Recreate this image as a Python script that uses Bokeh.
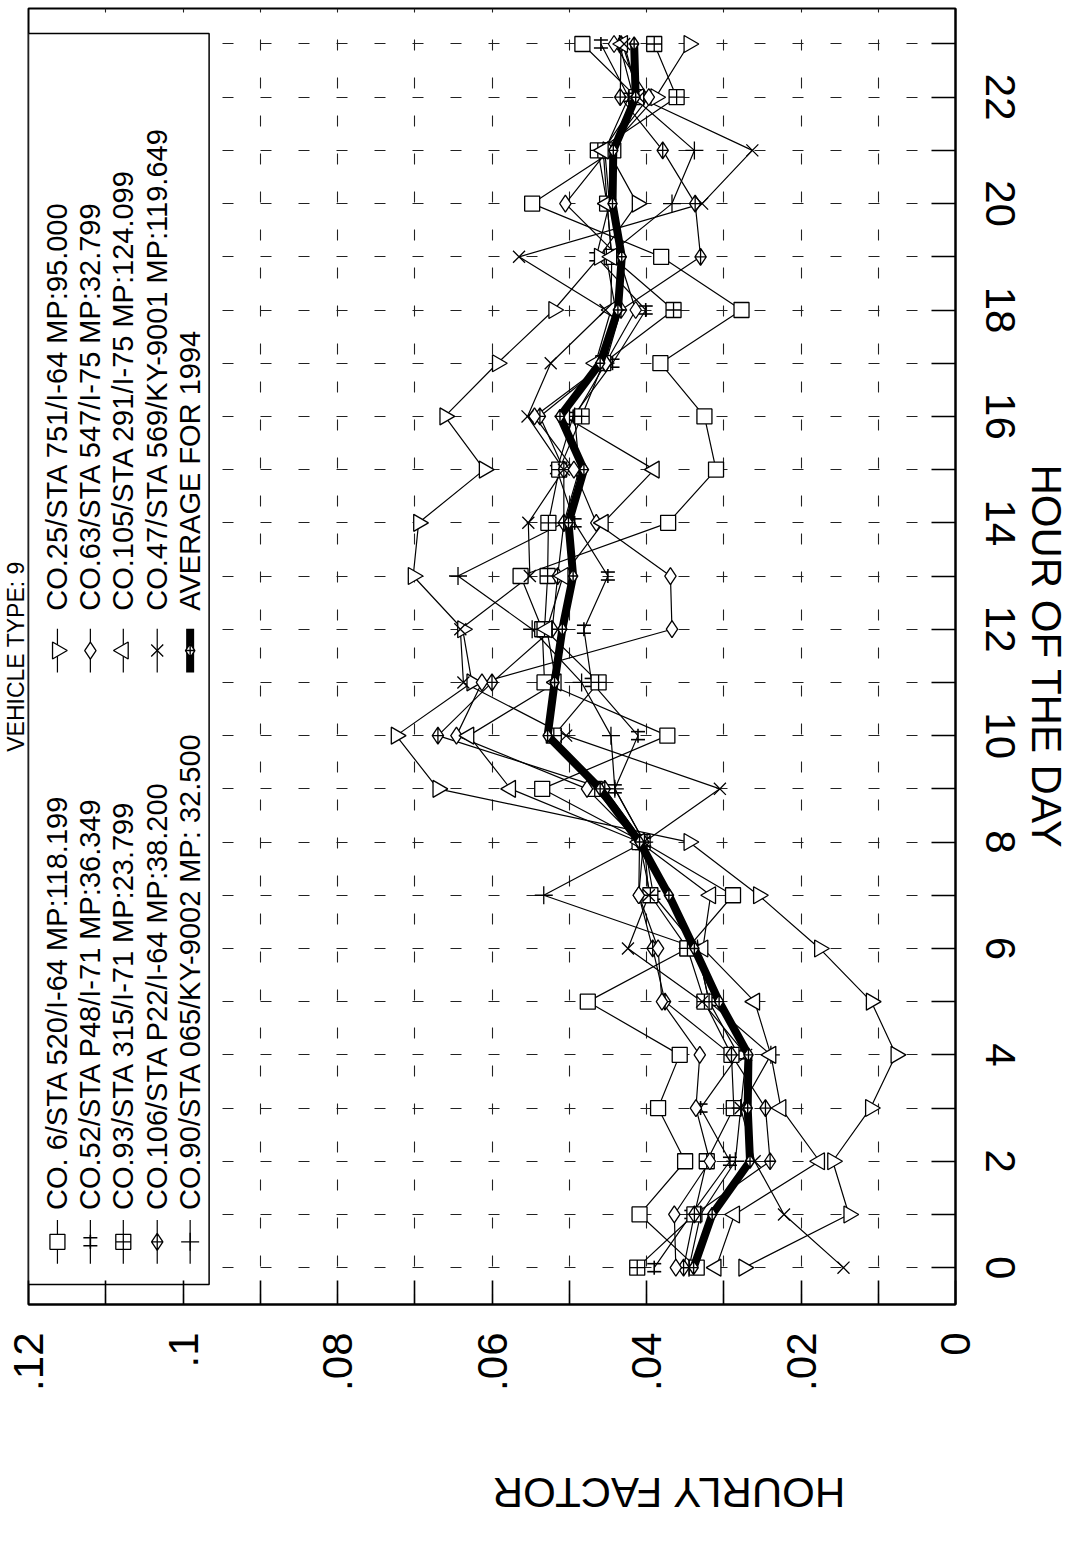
from math import pi
from bokeh.plotting import figure
from bokeh.models import Range1d, FixedTicker, CustomJSTickFormatter, Label
from bokeh.embed import file_html
from bokeh.resources import INLINE

# ---------------- data (hourly factor by hour of the day) ----------------
hours = list(range(24))

co6_sta520 = [0.0335, 0.0409, 0.0350, 0.0385, 0.0357, 0.0476, 0.0347, 0.0288, 0.0405, 0.0535, 0.0373, 0.0532,
              0.0535, 0.0563, 0.0372, 0.0310, 0.0325, 0.0382, 0.0277, 0.0381, 0.0548, 0.0443, 0.0413, 0.0483]
co52_p48 = [0.0390, 0.0342, 0.0292, 0.0330, 0.0281, 0.0319, 0.0334, 0.0391, 0.0403, 0.0441, 0.0411, 0.0471,
            0.0481, 0.0450, 0.0493, 0.0516, 0.0495, 0.0444, 0.0401, 0.0465, 0.0448, 0.0454, 0.0423, 0.0459]
co93_sta315 = [0.0412, 0.0338, 0.0322, 0.0287, 0.0290, 0.0325, 0.0347, 0.0395, 0.0409, 0.0467, 0.0520, 0.0462,
               0.0532, 0.0528, 0.0527, 0.0513, 0.0484, 0.0456, 0.0365, 0.0445, 0.0451, 0.0463, 0.0361, 0.0390]
co106_p22 = [0.0352, 0.0338, 0.0240, 0.0246, 0.0290, 0.0376, 0.0392, 0.0410, 0.0404, 0.0454, 0.0670, 0.0600,
             0.0522, 0.0515, 0.0507, 0.0507, 0.0538, 0.0453, 0.0433, 0.0330, 0.0337, 0.0379, 0.0434, 0.0433]
co90_sta065 = [0.0345, 0.0330, 0.0285, 0.0278, 0.0239, 0.0319, 0.0334, 0.0533, 0.0403, 0.0441, 0.0446, 0.0484,
               0.0548, 0.0644, 0.0507, 0.0487, 0.0493, 0.0453, 0.0440, 0.0452, 0.0367, 0.0338, 0.0417, 0.0435]
co25_sta751 = [0.0274, 0.0138, 0.0159, 0.0110, 0.0077, 0.0109, 0.0176, 0.0255, 0.0345, 0.0670, 0.0724, 0.0626,
               0.0638, 0.0702, 0.0695, 0.0610, 0.0661, 0.0593, 0.0520, 0.0461, 0.0412, 0.0450, 0.0388, 0.0345]
co63_sta547 = [0.0362, 0.0364, 0.0318, 0.0336, 0.0331, 0.0380, 0.0385, 0.0410, 0.0409, 0.0477, 0.0646, 0.0613,
               0.0367, 0.0369, 0.0465, 0.0494, 0.0545, 0.0453, 0.0414, 0.0436, 0.0505, 0.0450, 0.0397, 0.0442]
co105_sta291 = [0.0310, 0.0286, 0.0176, 0.0226, 0.0239, 0.0260, 0.0327, 0.0317, 0.0409, 0.0576, 0.0630, 0.0517,
                0.0529, 0.0508, 0.0456, 0.0390, 0.0506, 0.0466, 0.0446, 0.0445, 0.0451, 0.0456, 0.0410, 0.0431]
co47_sta569 = [0.0145, 0.0222, 0.0260, 0.0278, 0.0271, 0.0328, 0.0424, 0.0397, 0.0403, 0.0305, 0.0504, 0.0637,
               0.0641, 0.0551, 0.0553, 0.0507, 0.0554, 0.0524, 0.0453, 0.0565, 0.0328, 0.0263, 0.0410, 0.0429]
avg_1994 = [0.0339, 0.0315, 0.0266, 0.0269, 0.0268, 0.0306, 0.0338, 0.0371, 0.0409, 0.0460, 0.0528, 0.0519,
            0.0509, 0.0495, 0.0501, 0.0481, 0.0512, 0.0460, 0.0437, 0.0432, 0.0444, 0.0443, 0.0414, 0.0416]

factor_ticks = [0.0, 0.02, 0.04, 0.06, 0.08, 0.10, 0.12]
factor_minor = [0.01, 0.03, 0.05, 0.07, 0.09, 0.11]
hour_ticks = [0, 2, 4, 6, 8, 10, 12, 14, 16, 18, 20, 22]
hour_minor = [1, 3, 5, 7, 9, 11, 13, 15, 17, 19, 21, 23]

labels_left = ["CO. 6/STA 520/I-64 MP:118.199", "CO.52/STA P48/I-71 MP:36.349",
               "CO.93/STA 315/I-71 MP:23.799", "CO.106/STA P22/I-64 MP:38.200",
               "CO.90/STA 065/KY-9002 MP: 32.500"]
labels_right = ["CO.25/STA 751/I-64 MP:95.000", "CO.63/STA 547/I-75 MP:32.799",
                "CO.105/STA 291/I-75 MP:124.099", "CO.47/STA 569/KY-9001 MP:119.649",
                "AVERAGE FOR 1994"]
title_text = "VEHICLE TYPE: 9"
x_title = "HOURLY FACTOR"
y_title = "HOUR OF THE DAY"

# ---------------- layout ----------------
FONT = "Liberation Sans"
W, H = 1084, 1542
FL, FR, FT, FB = 26, 955, 8, 1310   # frame edges, canvas px
XMAX = 0.12
Y_LO = (1273 - FB) / 53.45
Y_HI = (1273 - FT) / 53.45


def fx(px):
    return XMAX * (FR - px) / (FR - FL)


def fy(py):
    return Y_LO + (FB - py) * (Y_HI - Y_LO) / (FB - FT)


p = figure(width=W, height=H, x_range=Range1d(XMAX, 0.0), y_range=Range1d(Y_LO, Y_HI),
           y_axis_location="right", output_backend="svg", toolbar_location=None,
           title=title_text, title_location="left",
           min_border_left=FL, min_border_right=W - FR,
           min_border_top=FT, min_border_bottom=H - FB)
p.title.align = "center"
p.title.text_font = FONT
p.title.text_font_size = "23px"
p.title.text_font_style = "normal"
p.title.text_color = "black"
p.title.standoff = 0
p.title.offset = 0
p.background_fill_color = "white"
p.border_fill_color = "white"
p.outline_line_color = "black"
p.outline_line_width = 2

fticker = FixedTicker(ticks=factor_ticks, minor_ticks=factor_minor)
hticker = FixedTicker(ticks=hour_ticks, minor_ticks=hour_minor)

xa = p.xaxis[0]
xa.ticker = fticker
xa.formatter = CustomJSTickFormatter(code="""
if (tick == 0) { return '0'; }
var s = tick.toFixed(2).replace(/^0/, '');
return s.replace(/0$/, '');
""")
ya = p.yaxis[0]
ya.ticker = hticker
for ax in (xa, ya):
    ax.major_label_text_font = FONT
    ax.major_label_text_font_size = "42px"
    ax.major_label_text_color = "black"
    ax.major_tick_in = 24
    ax.major_tick_out = 0
    ax.minor_tick_in = 24
    ax.minor_tick_out = 0
    ax.major_tick_line_width = 1.6
    ax.minor_tick_line_width = 1.6
    ax.major_tick_line_color = "black"
    ax.minor_tick_line_color = "black"
    ax.axis_line_width = 2
    ax.axis_line_color = "black"
    ax.axis_label_text_font = FONT
    ax.axis_label_text_font_size = "42px"
    ax.axis_label_text_font_style = "normal"
    ax.axis_label_text_color = "black"
xa.major_label_orientation = pi / 2
ya.major_label_orientation = "vertical"
xa.major_label_standoff = 28
ya.major_label_standoff = 30

xa.axis_label = x_title
ya.axis_label = y_title
xa.axis_label_standoff = 99
ya.axis_label_standoff = 5
try:
    xa.axis_label_orientation = pi
except Exception:
    pass
try:
    ya.axis_label_orientation = "vertical"
except Exception:
    pass

for g, tk in ((p.xgrid[0], fticker), (p.ygrid[0], hticker)):
    g.ticker = tk
    g.grid_line_color = "#222222"
    g.grid_line_width = 1.1
    g.grid_line_dash = "11 27"
    g.minor_grid_line_color = "#222222"
    g.minor_grid_line_width = 1.1
    g.minor_grid_line_dash = "11 27"

# ---------------- legend box (under the data) ----------------
LEG_R = 207
p.quad(left=[fx(FL)], right=[fx(LEG_R)], top=[fy(33)], bottom=[fy(1290)],
       fill_color="white", line_color="black", line_width=1.5)

# ---------------- series ----------------
LW = 1.2


def hash_marker(xs, ys, size=14):
    dy = 0.075
    p.scatter(xs, [v + dy for v in ys], marker="dash", size=size, line_color="black", line_width=1.6)
    p.scatter(xs, [v - dy for v in ys], marker="dash", size=size, line_color="black", line_width=1.6)
    p.scatter(xs, ys, marker="dash", angle=pi / 2, size=size, line_color="black", line_width=1.6)


series = [
    (co6_sta520, "square", 0, 15),
    (co52_p48, "hash", 0, 14),
    (co93_sta315, "square_cross", 0, 15),
    (co106_p22, "diamond_cross", 0, 17),
    (co90_sta065, "cross", 0, 18),
    (co25_sta751, "triangle", -pi / 2, 17),
    (co63_sta547, "diamond", 0, 17),
    (co105_sta291, "triangle", pi / 2, 17),
    (co47_sta569, "x", 0, 17),
]

for vals, mk, ang, sz in series:
    p.line(vals, hours, line_color="black", line_width=LW)
for vals, mk, ang, sz in series:
    if mk == "hash":
        hash_marker(vals, hours, sz)
    else:
        p.scatter(vals, hours, marker=mk, angle=ang, size=sz, fill_color="white",
                  line_color="black", line_width=1.3)

p.line(avg_1994, hours, line_color="black", line_width=8)
p.scatter(avg_1994, hours, marker="diamond_cross", size=14, fill_color="white",
          line_color="black", line_width=1.4)

# ---------------- legend entries ----------------
col_x = [55, 88, 121, 155, 188]
left_marks = [("square", 0, 15), ("hash", 0, 14), ("square_cross", 0, 15), ("diamond_cross", 0, 17), ("cross", 0, 18)]
right_marks = [("triangle", -pi / 2, 17), ("diamond", 0, 17), ("triangle", pi / 2, 17), ("x", 0, 17), ("avg", 0, 14)]

for texts, marks, yc_px, ytxt_px in ((labels_left, left_marks, 1247, 1215),
                                      (labels_right, right_marks, 653, 613)):
    yc = fy(yc_px)
    d = 22 / 53.45
    for cx_px, txt, (mk, ang, sz) in zip(col_x, texts, marks):
        cx = fx(cx_px)
        if mk == "avg":
            p.line([cx, cx], [yc - d, yc + d], line_color="black", line_width=8)
            p.scatter([cx], [yc], marker="diamond_cross", size=14, fill_color="white",
                      line_color="black", line_width=1.4)
        else:
            p.line([cx, cx], [yc - d, yc + d], line_color="black", line_width=LW)
            if mk == "hash":
                hash_marker([cx], [yc], sz)
            else:
                p.scatter([cx], [yc], marker=mk, angle=ang, size=sz, fill_color="white",
                          line_color="black", line_width=1.3)
        p.add_layout(Label(x=cx, y=fy(ytxt_px), text=txt, angle=pi / 2, text_align="left",
                           text_baseline="middle", text_font=FONT, text_font_size="29px",
                           text_color="black"))

open("out.html", "w").write(file_html(p, INLINE))
